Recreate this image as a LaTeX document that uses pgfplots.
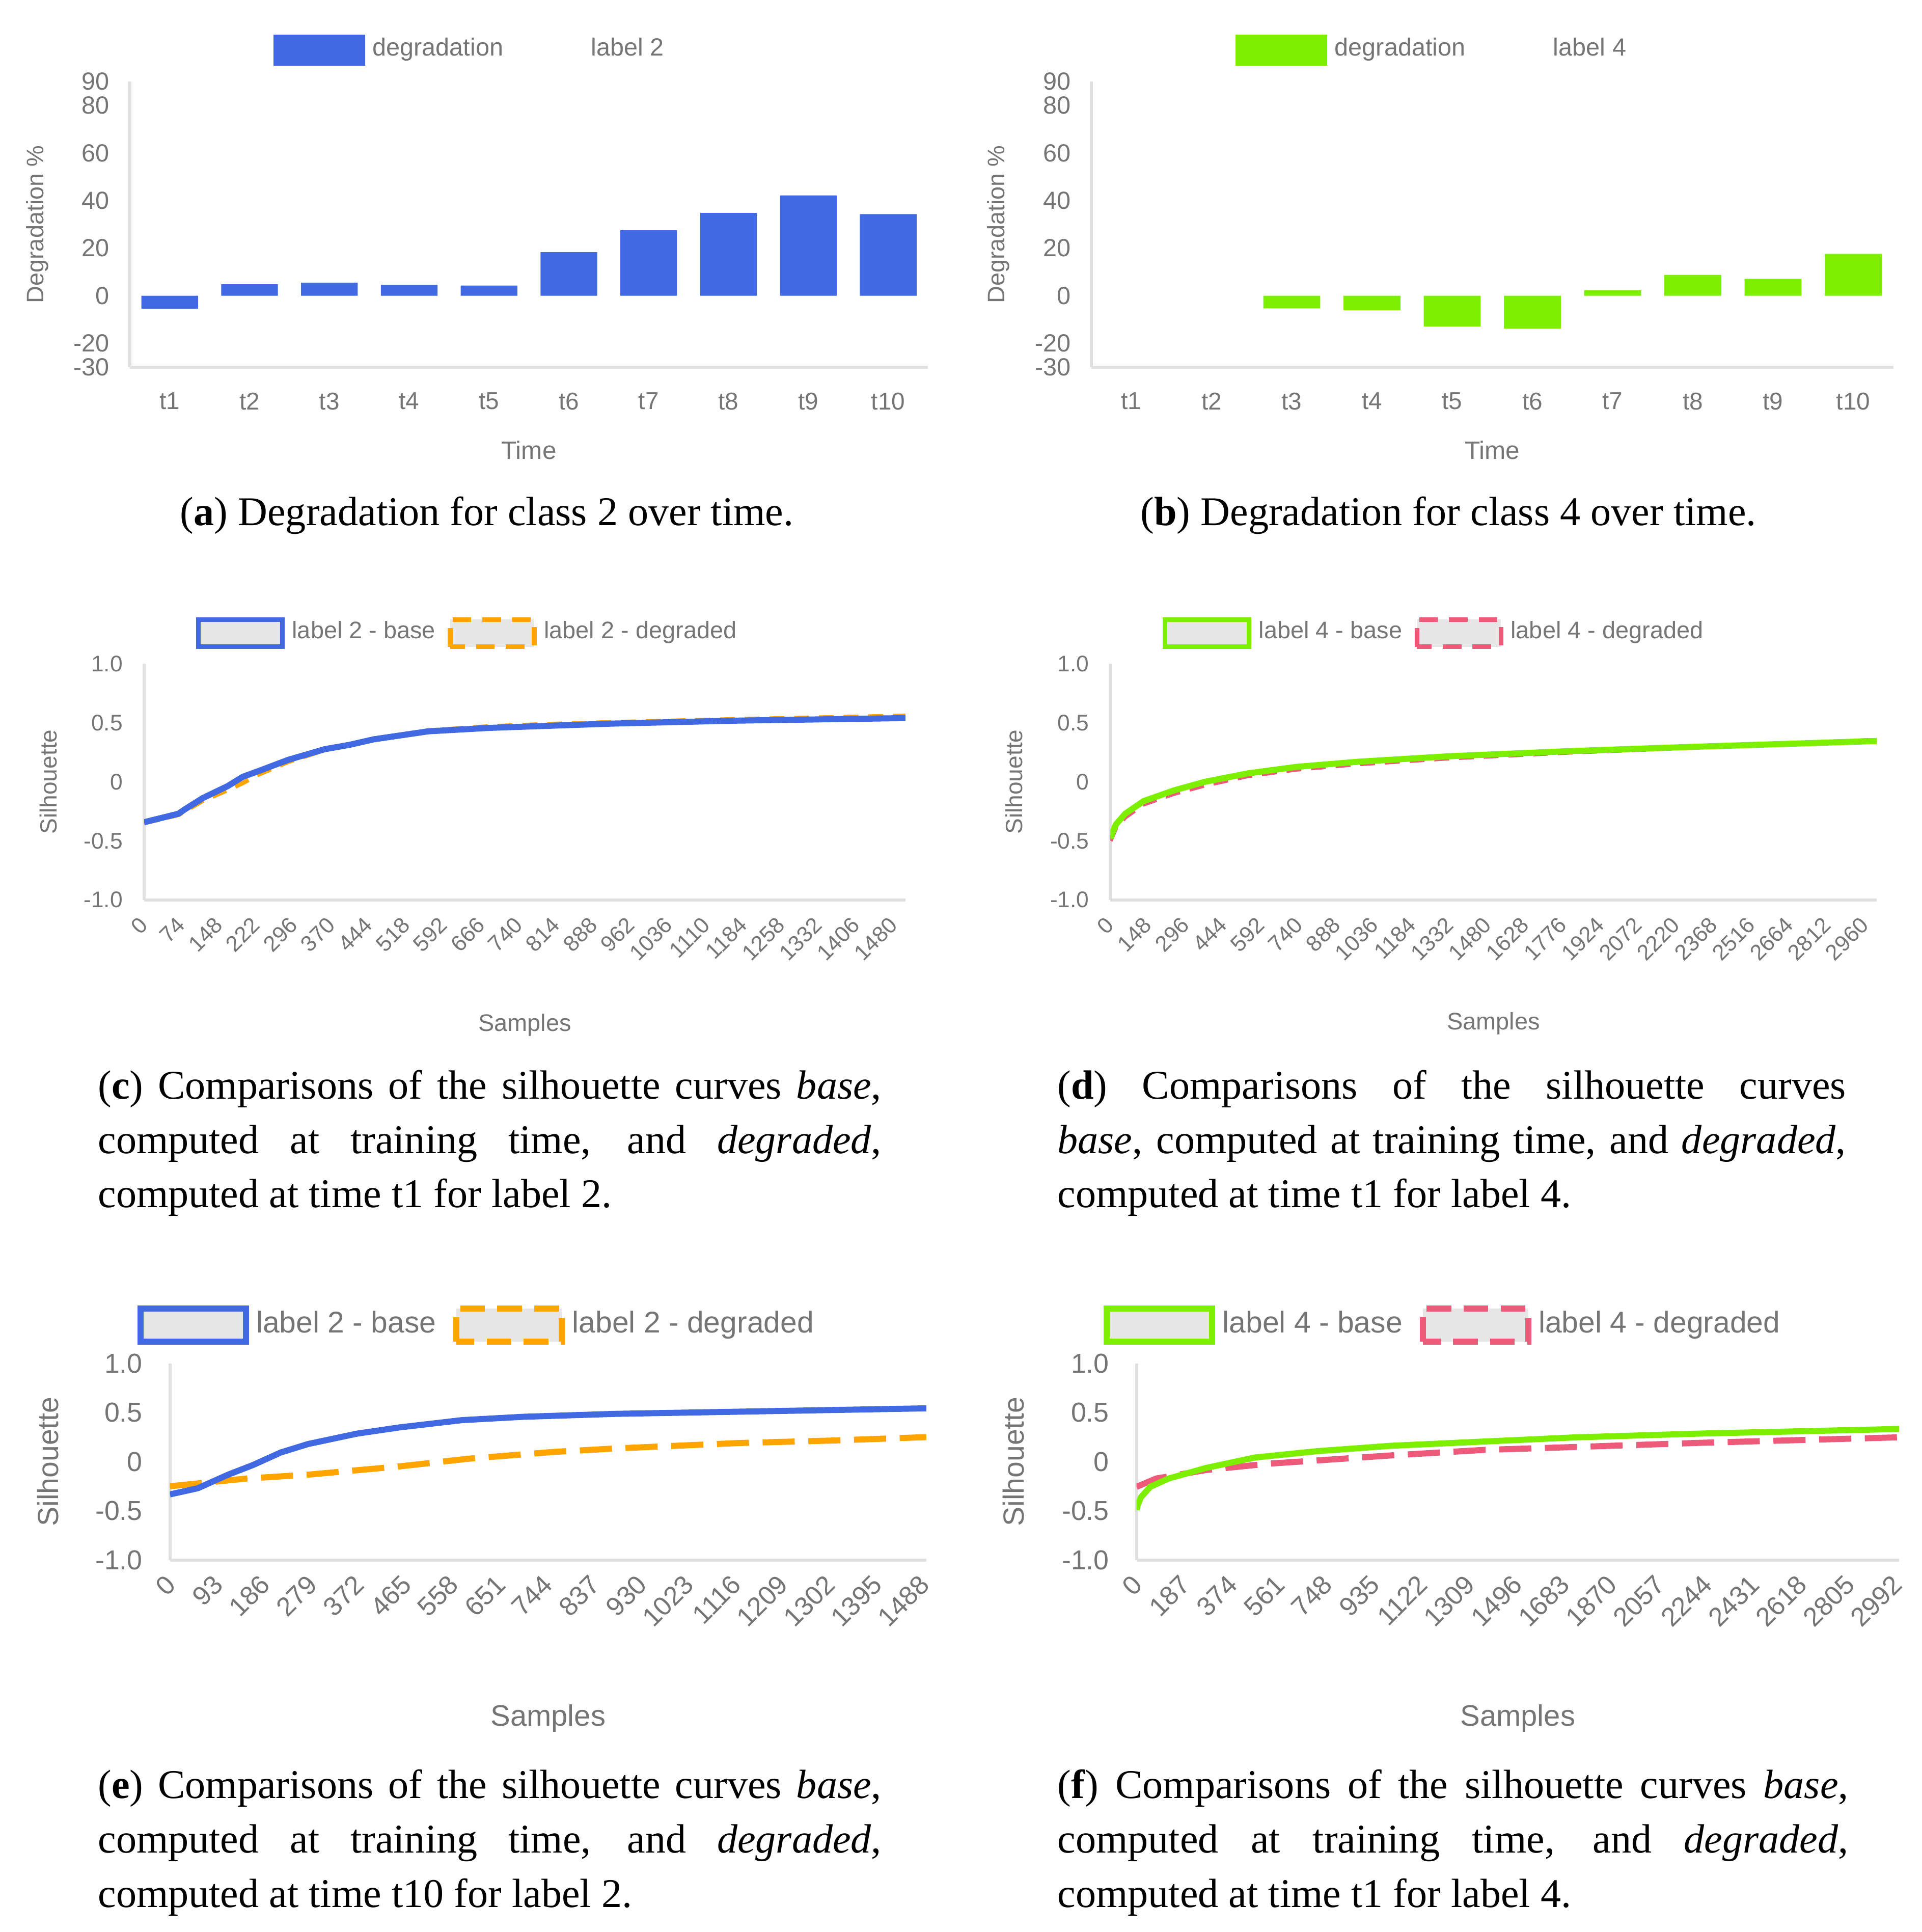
\documentclass[border=0pt]{standalone}
\usepackage{fontspec}
\setmainfont{Liberation Serif}
\newfontfamily\chartfont{Liberation Sans}
\usepackage{pgfplots}
\pgfplotsset{compat=1.18}
\tolerance=9999

\definecolor{cblue}{HTML}{4169E1}
\definecolor{cgreen}{HTML}{7CF000}
\definecolor{corange}{HTML}{FFA500}
\definecolor{cpink}{HTML}{EE5A7A}
\definecolor{ctext}{HTML}{757575}
\definecolor{caxis}{HTML}{E0E0E0}
\definecolor{legfill}{HTML}{E6E6E6}

\newcommand{\cfs}[1]{\chartfont\fontsize{#1}{#1}\selectfont}
\newcommand{\capfont}{\fontsize{9.4}{12.5}\selectfont}

\pgfplotsset{
  gchart/.style={
    scale only axis,
    axis x line*=bottom, axis y line*=left,
    x axis line style={-, draw=caxis, line width=0.7pt},
    y axis line style={-, draw=caxis, line width=0.7pt},
    major tick length=0pt, tick style={draw=none},
    /pgf/number format/assume math mode=true,
    /pgf/number format/1000 sep={},
    tick label style={text=ctext, inner sep=0pt},
    label style={text=ctext, inner sep=0pt},
    legend columns=-1,
    legend style={draw=none, fill=none, inner sep=0pt, outer sep=0pt, anchor=west,
      nodes={inner xsep=0.6mm, inner ysep=0.4mm, text=ctext}},
  },
  % degradation bar charts (a), (b)
  gbars/.style={
    gchart, height=23.1mm,
    xmin=0.5, xmax=10.5, ymin=-30, ymax=90,
    xtick={1,...,10}, xticklabels={t1,t2,t3,t4,t5,t6,t7,t8,t9,t10},
    ytick={-30,-20,0,20,40,60,80,90}, yticklabels={-30,-20,0,20,40,60,80,90},
    x tick label style={font=\cfs{5.6}}, y tick label style={font=\cfs{5.7}},
    xticklabel shift=2.0mm, yticklabel shift=1.6mm,
    xlabel={Time}, ylabel={Degradation \%},
    xlabel style={font=\cfs{5.8}, at={(axis description cs:0.5,-0.29)}, anchor=center},
    ylabel style={font=\cfs{5.5}, at={(axis description cs:-0.116,0.5)}, anchor=center},
    legend style={at={(axis description cs:0.18,1.11)}, font=\cfs{5.7},
      /tikz/every even column/.append style={column sep=5.9mm}},
    legend image post style={xscale=1.23, yscale=1.25},
  },
  % small silhouette charts (c), (d)
  gsilA/.style={
    gchart, height=19.1mm,
    ymin=-1, ymax=1,
    ytick={-1,-0.5,0,0.5,1}, yticklabels={-1.0,-0.5,0,0.5,1.0},
    x tick label style={font=\cfs{5.1}, xshift=-0.5mm, rotate=45, anchor=north east},
    y tick label style={font=\cfs{5.2}},
    xticklabel shift=1.2mm, yticklabel shift=1.66mm,
    xlabel={Samples}, ylabel={Silhouette},
    ylabel style={font=\cfs{5.4}, at={(axis description cs:-0.126,0.5)}, anchor=center},
    legend style={at={(axis description cs:0.068,1.13)}, font=\cfs{5.5},
      /tikz/every even column/.append style={column sep=0.4mm}},
    legend image post style={xscale=1.133, yscale=1.1},
  },
  % larger silhouette charts (e), (f)
  gsilB/.style={
    gchart, height=15.9mm,
    ymin=-1, ymax=1,
    ytick={-1,-0.5,0,0.5,1}, yticklabels={-1.0,-0.5,0,0.5,1.0},
    x tick label style={font=\cfs{6.1}, xshift=-0.45mm, rotate=45, anchor=north east},
    y tick label style={font=\cfs{6.3}},
    xticklabel shift=1.0mm, yticklabel shift=2.15mm,
    xlabel={Samples}, ylabel={Silhouette},
    xlabel style={font=\cfs{6.8}, at={(axis description cs:0.5,-0.805)}, anchor=center},
    ylabel style={font=\cfs{6.7}, at={(axis description cs:-0.161,0.5)}, anchor=center},
    legend style={at={(axis description cs:-0.043,1.195)}, font=\cfs{6.9},
      /tikz/every even column/.append style={column sep=0.8mm}},
    legend image post style={xscale=1.42, yscale=1.35},
  },
}

\begin{document}
\begin{tikzpicture}
\path[use as bounding box] (0,0) rectangle (155.5mm,-156.3mm);

% (a)
\begin{axis}[gbars, at={(10.5mm,-29.7mm)}, anchor=south west, width=64.6mm]
\addplot[ybar, bar width=0.71, fill=cblue, draw=none, forget plot] coordinates {
  (1,-5.5) (2,4.8) (3,5.5) (4,4.6) (5,4.3) (6,18.3) (7,27.5) (8,34.8) (9,42.2) (10,34.3)
};
\addlegendimage{area legend, fill=cblue, draw=cblue, line width=0.1pt}
\addlegendentry{degradation}
\addlegendimage{empty legend}
\addlegendentry{label 2}
\end{axis}

% (b)
\begin{axis}[gbars, at={(88.3mm,-29.7mm)}, anchor=south west, width=64.9mm]
\addplot[ybar, bar width=0.71, fill=cgreen, draw=none, forget plot] coordinates {
  (3,-5.3) (4,-6.1) (5,-12.9) (6,-13.8) (7,2.3) (8,8.8) (9,7.1) (10,17.6)
};
\addlegendimage{area legend, fill=cgreen, draw=cgreen, line width=0.1pt}
\addlegendentry{degradation}
\addlegendimage{empty legend}
\addlegendentry{label 4}
\end{axis}

% (c)
\begin{axis}[gsilA, at={(11.66mm,-72.8mm)}, anchor=south west, width=61.6mm,
  xmin=0, xmax=1503, xtick={0,74,...,1480},
  xlabel style={font=\cfs{5.5}, at={(axis description cs:0.5,-0.529)}, anchor=center}]
\addlegendimage{area legend, draw=cblue, fill=legfill, line width=1.1pt}
\addlegendentry{label 2 - base}
\addlegendimage{area legend, draw=corange, fill=legfill, line width=1.1pt, dash pattern=on 1.5mm off 0.9mm}
\addlegendentry{label 2 - degraded}
\addplot[corange, line width=1pt, dash pattern=on 1.2mm off 0.8mm, forget plot] coordinates {
  (0,-0.35) (68,-0.28) (80,-0.25) (116,-0.16) (165,-0.07) (195,-0.01) (225,0.06)
  (285,0.17) (357,0.27) (405,0.31) (453,0.36) (561,0.435) (681,0.47) (801,0.49)
  (921,0.505) (1162,0.53) (1503,0.56)
};
\addplot[cblue, line width=1.4pt, forget plot] coordinates {
  (0,-0.342) (68,-0.27) (80,-0.234) (116,-0.137) (165,-0.036) (195,0.043) (225,0.09)
  (285,0.187) (357,0.277) (405,0.313) (453,0.36) (561,0.428) (681,0.457) (801,0.475)
  (921,0.493) (1162,0.518) (1503,0.54)
};
\end{axis}

% (d)
\begin{axis}[gsilA, at={(89.85mm,-72.8mm)}, anchor=south west, width=62.0mm,
  xmin=0, xmax=3006, xtick={0,148,...,2960},
  xlabel style={font=\cfs{5.5}, at={(axis description cs:0.5,-0.524)}, anchor=center}]
\addlegendimage{area legend, draw=cgreen, fill=legfill, line width=1.1pt}
\addlegendentry{label 4 - base}
\addlegendimage{area legend, draw=cpink, fill=legfill, line width=1.1pt, dash pattern=on 1.5mm off 0.9mm}
\addlegendentry{label 4 - degraded}
\addplot[cpink, line width=1pt, dash pattern=on 1.2mm off 0.8mm, forget plot] coordinates {
  (0,-0.50) (10,-0.45) (22,-0.39) (58,-0.30) (130,-0.19) (250,-0.10) (370,-0.03)
  (540,0.05) (730,0.105) (970,0.15) (1330,0.2) (1810,0.25) (2290,0.29) (3006,0.355)
};
\addplot[cgreen, line width=1.4pt, forget plot] coordinates {
  (0,-0.48) (10,-0.42) (22,-0.36) (58,-0.27) (130,-0.163) (250,-0.072) (370,0)
  (540,0.072) (730,0.127) (970,0.17) (1330,0.217) (1810,0.261) (2290,0.297) (3006,0.346)
};
\end{axis}

% (e)
\begin{axis}[gsilB, at={(13.75mm,-126.2mm)}, anchor=south west, width=61.2mm,
  xmin=0, xmax=1494, xtick={0,93,...,1488}]
\addlegendimage{area legend, draw=cblue, fill=legfill, line width=1.4pt}
\addlegendentry{label 2 - base}
\addlegendimage{area legend, draw=corange, fill=legfill, line width=1.4pt, dash pattern=on 2mm off 1mm}
\addlegendentry{label 2 - degraded}
\addplot[corange, line width=1.4pt, dash pattern=on 2.6mm off 1.1mm, forget plot] coordinates {
  (0,-0.25) (152,-0.171) (273,-0.132) (455,-0.047) (589,0.03) (759,0.1)
  (881,0.135) (1124,0.19) (1306,0.215) (1494,0.25)
};
\addplot[cblue, line width=1.4pt, forget plot] coordinates {
  (0,-0.333) (55,-0.27) (115,-0.132) (164,-0.034) (219,0.094) (273,0.18) (370,0.286)
  (455,0.35) (577,0.423) (698,0.457) (881,0.487) (1124,0.509) (1494,0.543)
};
\end{axis}

% (f)
\begin{axis}[gsilB, at={(91.96mm,-126.2mm)}, anchor=south west, width=61.7mm,
  xmin=0, xmax=3004, xtick={0,187,...,2992}]
\addlegendimage{area legend, draw=cgreen, fill=legfill, line width=1.4pt}
\addlegendentry{label 4 - base}
\addlegendimage{area legend, draw=cpink, fill=legfill, line width=1.4pt, dash pattern=on 2mm off 1mm}
\addlegendentry{label 4 - degraded}
\addplot[cpink, line width=1.4pt, dash pattern=on 2.6mm off 1.1mm, forget plot] coordinates {
  (0,-0.256) (78,-0.171) (273,-0.085) (516,-0.021) (760,0.021) (1003,0.064)
  (1368,0.12) (1733,0.15) (2220,0.192) (3004,0.248)
};
\addplot[cgreen, line width=1.4pt, forget plot] coordinates {
  (0,-0.49) (5,-0.44) (17,-0.363) (54,-0.256) (127,-0.171) (273,-0.064) (467,0.043)
  (711,0.107) (1003,0.162) (1368,0.205) (1733,0.248) (2220,0.286) (3004,0.333)
};
\end{axis}

% captions
\node[anchor=base, inner sep=0pt, font=\capfont] at (39.4mm,-42.5mm)
  {(\textbf{a}) Degradation for class 2 over time.};
\node[anchor=base, inner sep=0pt, font=\capfont] at (117.2mm,-42.5mm)
  {(\textbf{b}) Degradation for class 4 over time.};
\node[anchor=base west, inner sep=0pt, text width=63.4mm, align=justify, font=\capfont] at (7.86mm,-88.9mm)
  {(\textbf{c}) Comparisons of the silhouette curves \textit{base},\linebreak computed at training time, and \textit{degraded},\linebreak computed at time t1 for label 2.};
\node[anchor=base west, inner sep=0pt, text width=63.8mm, align=justify, font=\capfont] at (85.5mm,-88.9mm)
  {(\textbf{d}) Comparisons of the silhouette curves\linebreak \textit{base}, computed at training time, and \textit{degraded},\linebreak computed at time t1 for label 4.};
\node[anchor=base west, inner sep=0pt, text width=63.4mm, align=justify, font=\capfont] at (7.86mm,-145.5mm)
  {(\textbf{e}) Comparisons of the silhouette curves \textit{base},\linebreak computed at training time, and \textit{degraded},\linebreak computed at time t10 for label 2.};
\node[anchor=base west, inner sep=0pt, text width=64.0mm, align=justify, font=\capfont] at (85.5mm,-145.5mm)
  {(\textbf{f}) Comparisons of the silhouette curves \textit{base},\linebreak computed at training time, and \textit{degraded},\linebreak computed at time t1 for label 4.};
\end{tikzpicture}
\end{document}
